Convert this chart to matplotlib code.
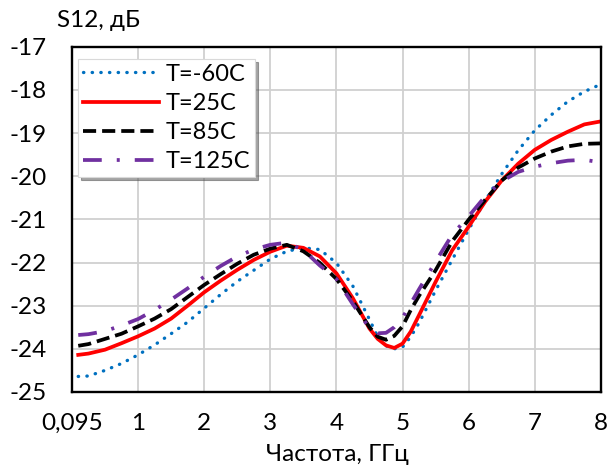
import matplotlib
matplotlib.use("Agg")
import matplotlib.pyplot as plt

plt.rcParams['font.family'] = ['Lato', 'DejaVu Sans']

freq = [0.095, 0.25, 0.5, 0.75, 1.0, 1.25, 1.5, 1.75, 2.0, 2.25, 2.5, 2.75, 3.0, 3.25, 3.5, 3.75, 4.0,
        4.25, 4.5, 4.625, 4.75, 4.875, 5.0, 5.125, 5.25, 5.5, 5.75, 6.0, 6.25, 6.5, 6.75, 7.0, 7.25,
        7.5, 7.75, 8.0]

s_m60 = [-24.64, -24.63, -24.50, -24.34, -24.14, -23.91, -23.65, -23.38, -23.06, -22.74, -22.44, -22.18,
         -21.92, -21.74, -21.66, -21.70, -22.01, -22.55, -23.32, -23.72, -23.93, -24.00, -23.96, -23.72,
         -23.40, -22.65, -21.94, -21.24, -20.57, -19.95, -19.40, -18.94, -18.58, -18.27, -18.04, -17.87]
s_25 = [-24.14, -24.11, -24.02, -23.87, -23.71, -23.53, -23.30, -23.00, -22.69, -22.42, -22.17, -21.94,
        -21.75, -21.61, -21.66, -21.86, -22.25, -22.83, -23.53, -23.77, -23.92, -23.98, -23.88, -23.60,
        -23.22, -22.45, -21.72, -21.17, -20.59, -20.10, -19.71, -19.39, -19.16, -18.97, -18.80, -18.73]
s_85 = [-23.93, -23.89, -23.77, -23.65, -23.48, -23.30, -23.08, -22.80, -22.52, -22.27, -22.03, -21.82,
        -21.68, -21.59, -21.74, -22.01, -22.38, -22.90, -23.50, -23.72, -23.79, -23.70, -23.48, -23.10,
        -22.77, -22.18, -21.51, -21.01, -20.55, -20.10, -19.80, -19.59, -19.43, -19.31, -19.25, -19.24]
s_125 = [-23.68, -23.66, -23.59, -23.46, -23.31, -23.10, -22.86, -22.60, -22.33, -22.08, -21.86, -21.70,
         -21.59, -21.54, -21.71, -22.07, -22.38, -22.97, -23.52, -23.64, -23.63, -23.50, -23.28, -22.95,
         -22.62, -21.98, -21.36, -20.93, -20.47, -20.12, -19.90, -19.78, -19.70, -19.64, -19.62, -19.68]

labels = ["T=-60C", "T=25C", "T=85C", "T=125C"]
xticks = [0, 1, 2, 3, 4, 5, 6, 7, 8]
xticklabels = ["0,095", "1", "2", "3", "4", "5", "6", "7", "8"]
yticks = [-25, -24, -23, -22, -21, -20, -19, -18, -17]

fig = plt.figure(figsize=(6.15, 4.7), dpi=100)
ax = fig.add_axes([0.117, 0.166, 0.860, 0.7346])

ax.plot(freq, s_m60, color='#0070C0', lw=2.4, linestyle=(0, (0.1, 2.5)), dash_capstyle='round', label=labels[0])
ax.plot(freq, s_25, color='#FF0000', lw=2.7, linestyle='-', label=labels[1])
ax.plot(freq, s_85, color='black', lw=2.7, linestyle=(0, (3.5, 1.6)), label=labels[2])
ax.plot(freq, s_125, color='#7030A0', lw=2.7, linestyle=(0, (5, 4, 0.8, 4)), label=labels[3])

ax.set_xlim(0, 8)
ax.set_ylim(-25, -17)
ax.set_xticks(xticks)
ax.set_xticklabels(xticklabels)
ax.set_yticks(yticks)
ax.set_yticklabels([str(v) for v in yticks])
ax.tick_params(axis='x', length=0, labelsize=17.5, pad=15)
ax.tick_params(axis='y', length=0, labelsize=17.5, pad=18)
ax.grid(True, color='#d0d0d0', lw=1.3)
ax.set_axisbelow(True)
for sp in ax.spines.values():
    sp.set_color('black')
    sp.set_linewidth(1.7)

fig.text(0.549, 0.033, "Частота, ГГц", fontsize=17.5, ha='center', va='center')
fig.text(0.093, 0.957, "S12, дБ", fontsize=17.5, ha='left', va='center')

leg = ax.legend(loc='upper left', bbox_to_anchor=(0.012, 0.965), fontsize=17,
                handlelength=3.2, handletextpad=0.3, labelspacing=0.35,
                borderpad=0.2, borderaxespad=0.0, fancybox=False, shadow=True, framealpha=1,
                edgecolor='#d9d9d9')
leg.get_frame().set_linewidth(0.8)

fig.savefig("out.png", dpi=100)
